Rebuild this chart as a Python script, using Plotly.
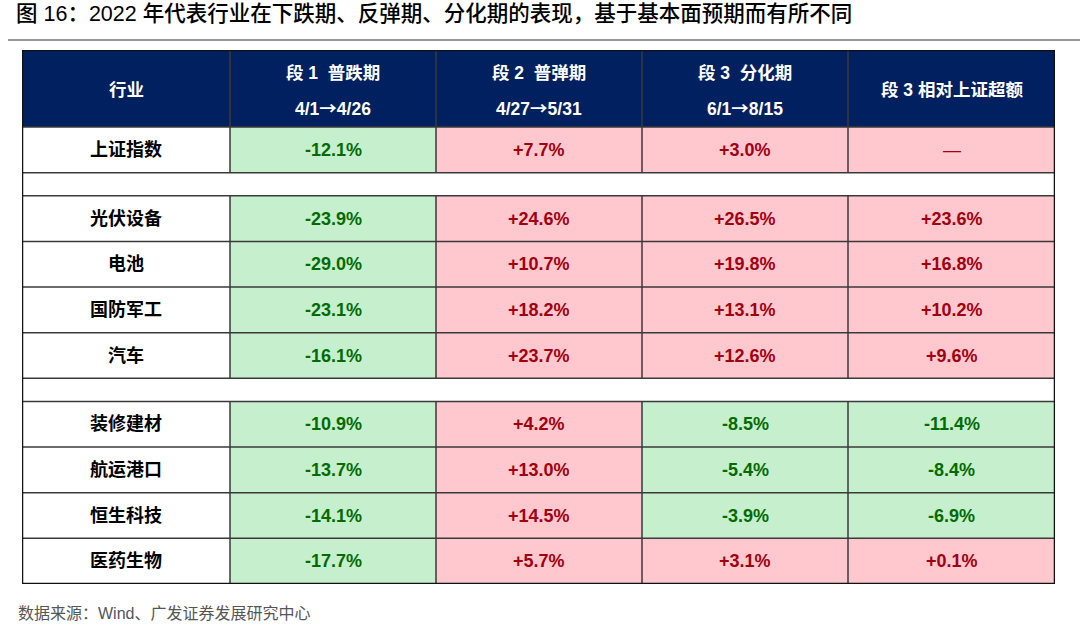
import plotly.graph_objects as go
import numpy as np

# ---------------- data ----------------
title_text = "图 16：2022 年代表行业在下跌期、反弹期、分化期的表现，基于基本面预期而有所不同"
source_text = "数据来源：Wind、广发证券发展研究中心"

col_header_top = ["行业", "段 1  普跌期", "段 2  普弹期", "段 3  分化期", "段 3 相对上证超额"]
col_header_sub = ["", "4/1→4/26", "4/27→5/31", "6/1→8/15", ""]

industries = ["上证指数", "光伏设备", "电池", "国防军工", "汽车",
              "装修建材", "航运港口", "恒生科技", "医药生物"]
seg1 = [-12.1, -23.9, -29.0, -23.1, -16.1, -10.9, -13.7, -14.1, -17.7]
seg2 = [7.7, 24.6, 10.7, 18.2, 23.7, 4.2, 13.0, 14.5, 5.7]
seg3 = [3.0, 26.5, 19.8, 13.1, 12.6, -8.5, -5.4, -3.9, 3.1]
excess = [None, 23.6, 16.8, 10.2, 9.6, -11.4, -8.4, -6.9, 0.1]
groups = [[0], [1, 2, 3, 4], [5, 6, 7, 8]]

# ---------------- layout constants ----------------
col_w = [208, 206, 206, 206, 207]
h_header, h_row, h_blank = 77, 45.6, 23
NAVY = "#002060"
GREEN_BG, GREEN_TX = "#C6EFCE", "#006B00"
PINK_BG, PINK_TX = "#FFC7CE", "#A0000F"
FONT = "Liberation Sans, Arial, Noto Sans CJK SC, sans-serif"
CJK = "Noto Sans CJK SC"

# build row structure
rows = [("header", None)]
for gi, g in enumerate(groups):
    if gi > 0:
        rows.append(("blank", None))
    for i in g:
        rows.append(("data", i))
heights = [h_header if k == "header" else (h_blank if k == "blank" else h_row) for k, _ in rows]
y_edges = np.concatenate([[0], np.cumsum(heights)])
x_edges = np.concatenate([[0], np.cumsum(col_w)])
y_mid = (y_edges[:-1] + y_edges[1:]) / 2
x_mid = (x_edges[:-1] + x_edges[1:]) / 2


def code(v):
    if v is None:
        return 2
    return 1 if v < 0 else 2


def fmt(v):
    if v is None:
        return "—"
    return f"{v:+.1f}%"


z = []
for kind, i in rows:
    if kind == "header":
        z.append([3] * 5)
    elif kind == "blank":
        z.append([0] * 5)
    else:
        z.append([0, code(seg1[i]), code(seg2[i]), code(seg3[i]), code(excess[i])])

colorscale = [[0, "white"], [0.25, "white"], [0.25, GREEN_BG], [0.5, GREEN_BG],
              [0.5, PINK_BG], [0.75, PINK_BG], [0.75, NAVY], [1, NAVY]]

fig = go.Figure(go.Heatmap(z=z, x=x_edges, y=y_edges, zmin=0, zmax=3,
                           colorscale=colorscale, showscale=False, hoverinfo="skip"))


def arrowize(s):
    return s.replace("→", f'<span style="font-family:{CJK}">→</span>')


annotations = []
# header texts
for c in range(5):
    if col_header_sub[c]:
        annotations.append(dict(x=x_mid[c], y=y_edges[0] + h_header * 0.30, text=f"<b>{col_header_top[c]}</b>",
                                font=dict(size=17.5, color="white", family=FONT), showarrow=False))
        annotations.append(dict(x=x_mid[c], y=y_edges[0] + h_header * 0.74, text=f"<b>{arrowize(col_header_sub[c])}</b>",
                                font=dict(size=17.5, color="white", family=FONT), showarrow=False))
    else:
        annotations.append(dict(x=x_mid[c], y=y_mid[0] + 1, text=f"<b>{col_header_top[c]}</b>",
                                font=dict(size=17.5, color="white", family=FONT), showarrow=False))

# body texts
for r, (kind, i) in enumerate(rows):
    if kind != "data":
        continue
    annotations.append(dict(x=x_mid[0], y=y_mid[r], text=f"<b>{industries[i]}</b>",
                            font=dict(size=18, color="black", family=FONT), showarrow=False))
    for c, series in enumerate([seg1, seg2, seg3, excess], start=1):
        v = series[i]
        color = GREEN_TX if (v is not None and v < 0) else PINK_TX
        txt = fmt(v)
        annotations.append(dict(x=x_mid[c], y=y_mid[r], text=(f"<b>{txt}</b>" if v is not None else txt),
                                font=dict(size=18, color=color, family=FONT), showarrow=False))

shapes = []
LINE = dict(color="#3a3a3a", width=1.5)
# horizontal lines
for y in y_edges[1:-1]:
    shapes.append(dict(type="line", xref="x", yref="y", x0=x_edges[0], x1=x_edges[-1], y0=y, y1=y, line=LINE))
# vertical lines (skip blank rows)
for r, (kind, _) in enumerate(rows):
    if kind == "blank":
        continue
    for x in x_edges[1:-1]:
        shapes.append(dict(type="line", xref="x", yref="y", x0=x, x1=x, y0=y_edges[r], y1=y_edges[r + 1], line=LINE))
# outer border
shapes.append(dict(type="rect", xref="x", yref="y", x0=x_edges[0], x1=x_edges[-1], y0=y_edges[0], y1=y_edges[-1],
                   line=dict(color="#111111", width=2.5)))
# title rule
shapes.append(dict(type="line", xref="paper", yref="paper", x0=8 / 1080, x1=1, y0=1 - 40 / 625, y1=1 - 40 / 625,
                   line=dict(color="#333333", width=1.2)))

annotations.append(dict(xref="paper", yref="paper", x=14 / 1080, y=1 - 14 / 625, xanchor="left", yanchor="middle",
                        text=title_text, showarrow=False,
                        font=dict(size=21.5, color="#000000", family="Liberation Sans, Noto Sans CJK SC", weight=500)))
annotations.append(dict(xref="paper", yref="paper", x=16 / 1080, y=1 - 613 / 625, xanchor="left", yanchor="middle",
                        text=source_text, showarrow=False,
                        font=dict(size=16, color="#555555", family="Liberation Sans, Noto Sans CJK SC")))

fig.update_layout(
    width=1080, height=625, margin=dict(l=0, r=0, t=0, b=0),
    paper_bgcolor="white", plot_bgcolor="white",
    xaxis=dict(range=[x_edges[0], x_edges[-1]], domain=[22 / 1080, 1055 / 1080], visible=False, fixedrange=True),
    yaxis=dict(range=[y_edges[-1], y_edges[0]], domain=[1 - 584 / 625, 1 - 50 / 625], visible=False, fixedrange=True),
    annotations=annotations, shapes=shapes, showlegend=False,
)

fig.write_html("out.html", config={"displayModeBar": False},
               post_script="document.body.style.margin='0';document.body.style.overflow='hidden';")
